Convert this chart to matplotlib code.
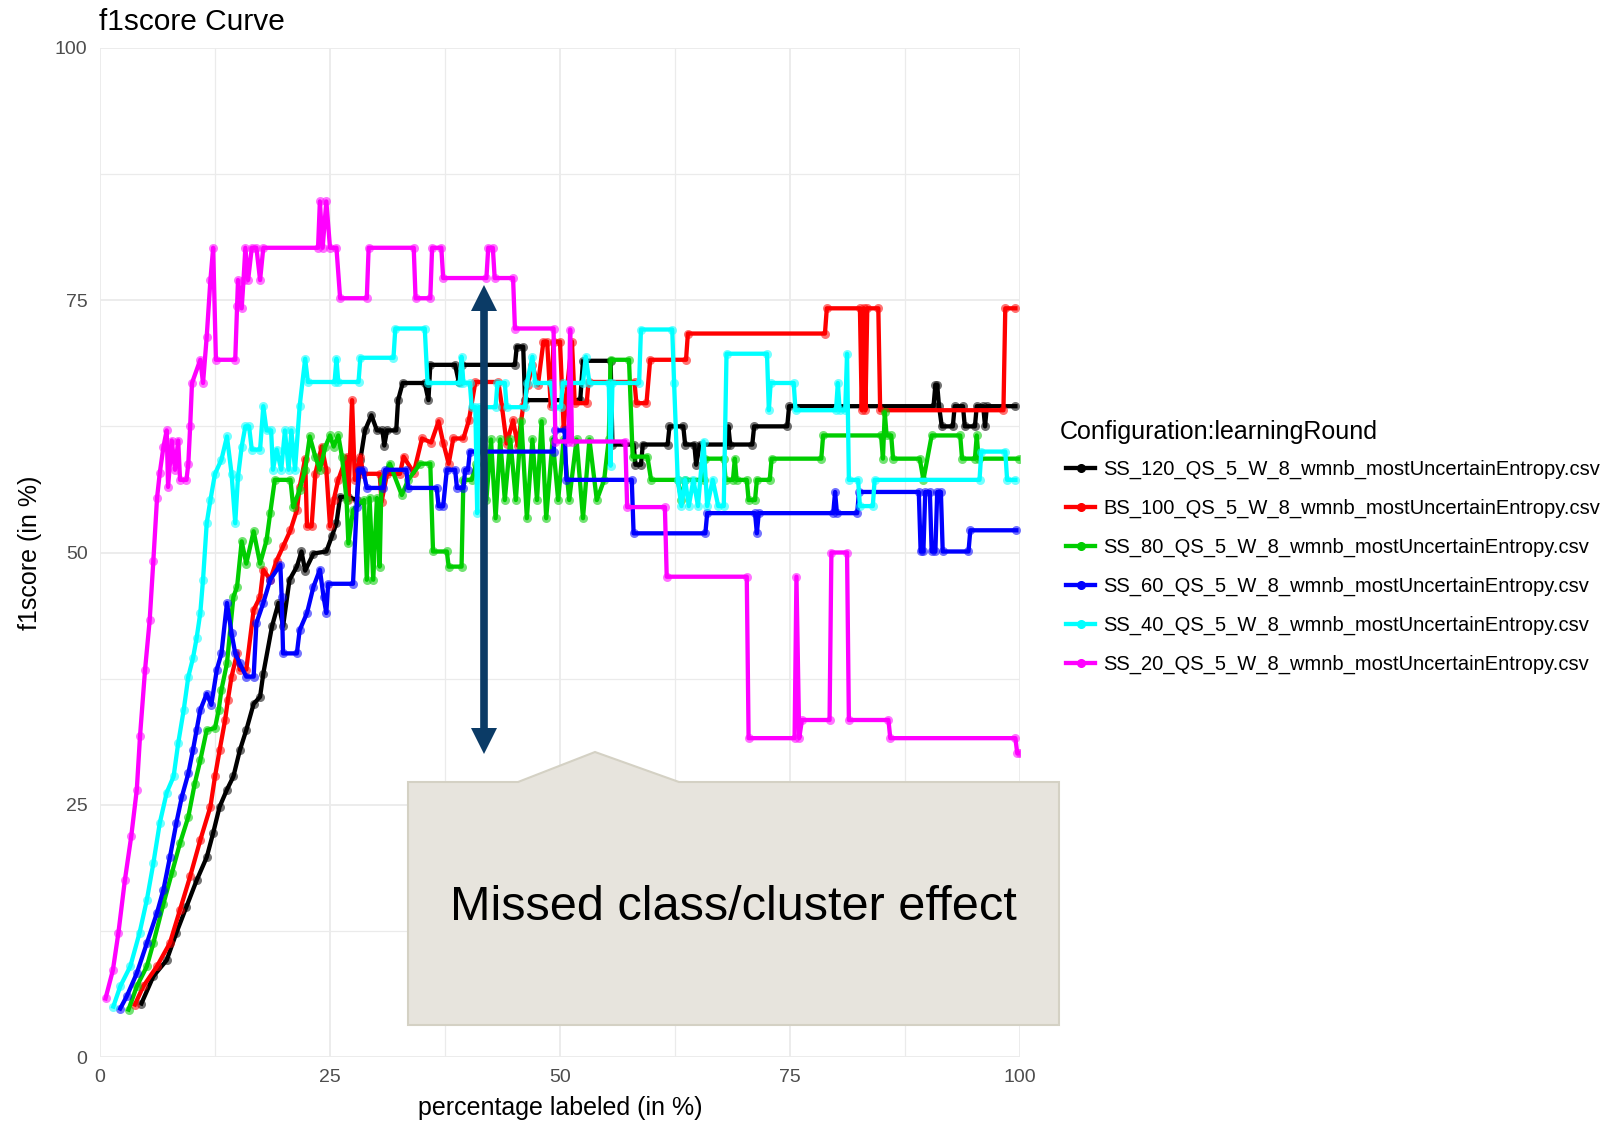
import matplotlib
matplotlib.use("Agg")
import matplotlib.pyplot as plt
from matplotlib.lines import Line2D
from matplotlib.patches import Polygon

plt.rcParams['font.family'] = ['Liberation Sans', 'DejaVu Sans']

# series: (percentage labeled, f1score)
ss120 = [(4.5, 5.3), (5.8, 8.0), (7.25, 9.6), (8.3, 12.3), (9.4, 14.9), (10.5, 17.5), (11.6, 19.8),
         (12.3, 22.2), (13.0, 24.8), (13.8, 26.5), (14.5, 27.8), (15.2, 30.4), (15.9, 32.4), (16.7, 35.0),
         (17.4, 35.7), (17.75, 38.0), (18.7, 42.7), (19.4, 45.0), (19.9, 42.7), (20.6, 47.3), (21.4, 48.6),
         (21.9, 50.1), (22.3, 48.2), (23.2, 49.9), (24.6, 50.1), (25.2, 51.6), (25.7, 52.9), (26.1, 55.5),
         (27.0, 55.5), (27.9, 55.2), (28.3, 59.2), (28.8, 62.1), (29.5, 63.6), (30.1, 62.1), (30.7, 62.1),
         (30.9, 60.6), (31.2, 62.1), (32.2, 62.1), (32.4, 65.1), (32.9, 66.8), (35.3, 66.8), (35.7, 65.1),
         (35.9, 68.6), (38.6, 68.6), (39.0, 66.9), (39.3, 68.6), (45.1, 68.6), (45.3, 70.4), (46.0, 70.4),
         (46.2, 65.1), (52.2, 65.1), (52.5, 69.0), (55.5, 69.0), (55.7, 60.7), (58.0, 60.7), (58.2, 58.7),
         (58.8, 58.7), (59.0, 60.7), (61.7, 60.7), (61.9, 62.5), (63.4, 62.5), (63.6, 60.7), (64.6, 60.7),
         (64.8, 58.7), (65.2, 60.7), (68.1, 60.7), (68.3, 62.5), (68.5, 60.7), (70.9, 60.7), (71.1, 62.5),
         (74.7, 62.5), (74.9, 64.5), (90.6, 64.5), (90.8, 66.6), (91.0, 66.6), (91.2, 64.5), (91.5, 62.5),
         (92.7, 62.5), (92.9, 64.5), (93.8, 64.5), (94.0, 62.5), (95.1, 62.5), (95.3, 64.5), (96.0, 64.5),
         (96.2, 62.5), (96.4, 64.5), (99.5, 64.5)]

bs100 = [(3.8, 5.2), (4.7, 7.0), (6.2, 9.0), (7.6, 11.3), (8.7, 14.6), (9.8, 17.9), (10.9, 21.5),
         (12.0, 24.8), (12.5, 27.8), (13.0, 30.4), (13.6, 33.4), (13.9, 35.4), (14.3, 37.7), (14.9, 40.0),
         (15.2, 38.4), (15.9, 38.4), (16.7, 44.3), (17.4, 45.6), (17.75, 48.3), (18.5, 47.3), (19.2, 49.2),
         (19.9, 50.6), (20.7, 52.2), (21.4, 54.2), (21.7, 56.5), (22.3, 59.3), (22.5, 52.6), (23.0, 52.6),
         (23.4, 57.8), (24.1, 60.5), (24.6, 58.2), (25.0, 52.6), (25.4, 55.2), (25.9, 57.2), (26.8, 59.5),
         (27.0, 55.2), (27.4, 65.1), (27.7, 57.2), (28.3, 59.5), (28.6, 57.8), (30.4, 57.8), (30.6, 55.0),
         (31.2, 57.8), (32.6, 57.8), (33.0, 59.5), (34.1, 57.9), (35.0, 61.3), (36.0, 60.9), (36.8, 63.0),
         (37.3, 60.9), (37.9, 58.8), (38.4, 61.3), (39.5, 61.3), (40.1, 63.1), (40.8, 66.9), (43.3, 66.9),
         (43.7, 64.4), (44.2, 60.8), (44.9, 63.1), (45.4, 60.6), (46.0, 64.5), (46.5, 66.6), (47.0, 68.6),
         (47.6, 66.6), (48.2, 70.9), (48.6, 70.9), (49.0, 64.5), (49.3, 70.9), (50.0, 70.9), (50.4, 62.3),
         (50.8, 66.6), (51.3, 70.9), (51.6, 64.8), (52.9, 64.8), (53.1, 66.9), (58.1, 66.9), (58.3, 64.8),
         (59.4, 64.8), (59.8, 69.1), (63.7, 69.1), (63.9, 71.7), (78.8, 71.7), (79.0, 74.2), (82.6, 74.2),
         (82.8, 64.1), (83.0, 74.2), (83.2, 64.1), (83.4, 74.2), (84.6, 74.2), (84.8, 64.1), (98.2, 64.1),
         (98.4, 74.2), (99.5, 74.2)]

ss80 = [(3.1, 4.7), (4.0, 7.0), (5.1, 9.0), (5.8, 11.3), (6.9, 15.2), (7.8, 18.2), (8.7, 21.2),
        (9.6, 23.8), (10.3, 27.1), (10.9, 29.4), (11.6, 32.4), (12.5, 32.6), (12.9, 34.4), (13.2, 36.4),
        (13.8, 39.0), (14.5, 45.6), (14.9, 46.6), (15.4, 51.1), (15.9, 48.9), (16.7, 52.1), (17.4, 48.9),
        (18.1, 51.2), (18.5, 53.9), (19.0, 57.2), (20.7, 57.2), (21.0, 54.5), (21.7, 56.2), (22.3, 58.2),
        (22.8, 61.5), (23.4, 59.5), (23.9, 58.2), (24.5, 60.5), (25.0, 61.6), (25.4, 60.5), (25.9, 61.6),
        (26.3, 59.5), (26.8, 55.2), (27.0, 50.9), (27.5, 54.2), (28.7, 55.2), (29.0, 47.3), (29.3, 55.4),
        (29.7, 47.3), (30.1, 55.4), (30.4, 48.6), (30.6, 57.2), (31.5, 58.8), (32.8, 55.7), (33.5, 57.2),
        (34.8, 58.8), (35.9, 58.8), (36.2, 50.1), (37.7, 50.1), (37.9, 48.6), (39.3, 48.6), (39.5, 57.2),
        (40.4, 57.2), (40.9, 58.8), (41.5, 61.2), (42.0, 55.2), (42.5, 61.2), (43.0, 53.4), (43.5, 61.2),
        (44.0, 55.2), (44.6, 61.2), (45.2, 55.2), (45.8, 63.0), (46.4, 53.4), (47.0, 61.2), (47.5, 55.2),
        (48.0, 63.0), (48.5, 53.4), (49.2, 61.2), (49.8, 55.2), (50.4, 61.2), (51.0, 55.2), (51.8, 61.2),
        (52.5, 53.4), (53.2, 61.2), (54.0, 55.2), (54.8, 57.2), (55.3, 61.2), (55.5, 69.1), (57.5, 69.1),
        (57.9, 59.5), (59.5, 59.5), (59.9, 57.2), (62.8, 57.2), (63.2, 55.2), (63.6, 57.2), (65.6, 57.2),
        (65.8, 59.3), (67.8, 59.3), (68.0, 57.2), (68.8, 57.2), (69.0, 59.3), (69.2, 57.2), (70.3, 57.2),
        (70.5, 55.2), (71.2, 55.2), (71.4, 57.2), (72.8, 57.2), (73.0, 59.3), (78.4, 59.3), (78.6, 61.6),
        (84.9, 61.6), (85.1, 59.3), (85.3, 63.9), (85.5, 61.6), (86.0, 61.6), (86.2, 59.3), (89.1, 59.3),
        (89.5, 57.2), (90.4, 61.6), (93.5, 61.6), (93.7, 59.3), (95.1, 59.3), (95.3, 61.6), (95.5, 59.3),
        (99.9, 59.3)]

ss60 = [(2.2, 4.8), (2.9, 6.0), (4.0, 8.3), (5.1, 11.3), (6.2, 14.3), (6.9, 16.6), (7.6, 19.8),
        (8.3, 23.2), (8.9, 25.8), (9.6, 28.1), (10.1, 30.4), (10.5, 32.4), (10.9, 34.4), (11.6, 36.0),
        (12.1, 34.9), (12.7, 38.4), (13.2, 40.0), (13.8, 45.0), (14.3, 42.0), (14.7, 40.0), (15.2, 39.0),
        (15.9, 37.7), (16.7, 37.7), (17.0, 43.0), (17.75, 45.0), (18.5, 47.3), (19.6, 48.8), (19.75, 45.6),
        (19.9, 40.0), (21.4, 40.0), (21.7, 42.3), (22.5, 44.0), (23.2, 46.6), (23.9, 48.3), (24.3, 45.6),
        (24.6, 44.0), (24.8, 46.9), (27.5, 46.9), (27.9, 54.5), (28.1, 58.2), (28.6, 58.2), (29.0, 56.4),
        (30.8, 56.4), (31.0, 58.2), (33.3, 58.2), (33.5, 56.4), (36.6, 56.4), (36.8, 54.6), (37.3, 54.6),
        (37.7, 58.2), (38.6, 58.2), (38.8, 56.4), (39.5, 56.4), (39.7, 58.2), (40.0, 58.2), (40.2, 60.0),
        (49.3, 60.0), (49.5, 62.1), (50.5, 62.1), (50.7, 57.2), (57.8, 57.2), (58.0, 51.9), (65.8, 51.9),
        (66.0, 53.9), (71.2, 53.9), (71.4, 51.9), (71.6, 53.9), (79.7, 53.9), (79.9, 56.0), (80.1, 53.9),
        (82.3, 53.9), (82.5, 56.0), (89.0, 56.0), (89.2, 50.1), (89.5, 50.1), (89.7, 56.0), (90.2, 56.0),
        (90.4, 50.1), (90.8, 50.1), (91.0, 56.0), (91.4, 56.0), (91.6, 50.1), (94.4, 50.1), (94.6, 52.2),
        (99.6, 52.2)]

ss40 = [(1.45, 5.0), (2.2, 7.0), (3.3, 9.0), (4.3, 12.3), (5.1, 15.6), (5.8, 19.2), (6.5, 23.2),
        (7.25, 26.2), (8.0, 27.8), (8.5, 31.1), (9.1, 34.4), (9.6, 37.7), (10.1, 39.5), (10.5, 41.5),
        (10.9, 44.0), (11.2, 47.3), (11.6, 52.9), (12.0, 55.2), (12.5, 57.8), (13.2, 59.2), (13.8, 61.5),
        (14.3, 57.8), (14.7, 52.9), (15.0, 57.5), (15.4, 60.5), (15.8, 62.5), (16.2, 62.5), (16.5, 60.2),
        (17.4, 60.2), (17.75, 64.5), (18.1, 62.1), (18.6, 62.1), (18.8, 58.2), (19.2, 60.2), (19.7, 58.2),
        (20.1, 62.1), (20.5, 58.2), (20.8, 62.1), (21.2, 58.2), (21.7, 64.5), (22.3, 69.2), (22.6, 66.9),
        (25.5, 66.9), (25.7, 69.2), (25.9, 66.9), (28.1, 66.9), (28.3, 69.3), (31.9, 69.3), (32.1, 72.2),
        (35.3, 72.2), (35.6, 66.8), (39.1, 66.8), (39.3, 69.4), (39.5, 66.8), (40.2, 66.8), (40.4, 64.4),
        (40.8, 64.4), (41.0, 53.9), (41.2, 64.4), (43.0, 64.4), (43.2, 66.8), (44.0, 66.8), (44.2, 64.4),
        (46.2, 64.4), (46.4, 66.8), (47.0, 69.4), (47.3, 66.8), (49.0, 66.8), (49.3, 64.4), (50.1, 64.4),
        (50.3, 66.8), (52.5, 66.8), (52.8, 69.4), (53.2, 66.8), (55.3, 66.8), (55.5, 58.6), (55.7, 66.8),
        (58.6, 66.8), (58.8, 72.1), (62.2, 72.1), (62.4, 66.8), (62.8, 57.2), (63.2, 54.6), (63.6, 57.2),
        (64.0, 54.6), (64.5, 57.2), (65.0, 54.6), (65.6, 61.0), (66.0, 54.6), (66.6, 57.2), (67.2, 54.6),
        (67.8, 54.6), (68.1, 69.7), (72.5, 69.7), (72.7, 64.1), (72.9, 66.8), (75.4, 66.8), (75.6, 64.1),
        (80.0, 64.1), (80.2, 66.8), (80.4, 64.1), (81.0, 64.1), (81.2, 69.7), (81.4, 57.2), (82.4, 57.2),
        (82.6, 54.6), (84.0, 54.6), (84.2, 57.2), (95.6, 57.2), (95.8, 60.0), (98.4, 60.0), (98.6, 57.2),
        (99.5, 57.2)]

ss20 = [(0.6, 5.8), (1.4, 8.6), (2.0, 12.3), (2.7, 17.5), (3.4, 21.9), (4.0, 26.5), (4.35, 31.8),
        (4.9, 38.4), (5.4, 43.3), (5.8, 49.2), (6.2, 55.4), (6.5, 57.9), (6.9, 60.5), (7.25, 62.1),
        (7.4, 56.5), (7.8, 61.1), (8.15, 58.2), (8.5, 61.1), (8.7, 57.2), (9.4, 57.2), (9.6, 58.8),
        (9.8, 62.5), (10.0, 66.8), (10.9, 69.1), (11.2, 66.8), (11.6, 71.4), (12.0, 77.0), (12.3, 80.2),
        (12.6, 69.1), (14.7, 69.1), (14.9, 74.4), (15.0, 77.0), (15.4, 74.2), (15.6, 77.0), (15.8, 80.2),
        (16.1, 77.0), (16.5, 80.2), (17.0, 80.2), (17.4, 77.0), (17.75, 80.2), (23.7, 80.2), (23.9, 84.8),
        (24.2, 80.2), (24.6, 84.8), (25.0, 80.2), (25.7, 80.2), (26.1, 75.2), (29.0, 75.2), (29.2, 80.2),
        (34.1, 80.2), (34.3, 75.2), (35.9, 75.2), (36.1, 80.2), (37.1, 80.2), (37.3, 77.2), (42.0, 77.2),
        (42.2, 80.2), (42.7, 80.2), (42.9, 77.2), (44.9, 77.2), (45.1, 72.2), (49.3, 72.2), (49.5, 61.0),
        (50.9, 61.0), (51.1, 72.1), (51.3, 61.0), (57.1, 61.0), (57.3, 54.5), (61.4, 54.5), (61.6, 47.6),
        (70.3, 47.6), (70.5, 31.6), (75.5, 31.6), (75.7, 47.6), (76.0, 31.6), (76.3, 33.4), (79.3, 33.4),
        (79.5, 50.0), (81.2, 50.0), (81.4, 33.4), (85.7, 33.4), (85.9, 31.6), (99.5, 31.6), (99.7, 30.1),
        (100.0, 30.1)]

labels = ["SS_120_QS_5_W_8_wmnb_mostUncertainEntropy.csv",
          "BS_100_QS_5_W_8_wmnb_mostUncertainEntropy.csv",
          "SS_80_QS_5_W_8_wmnb_mostUncertainEntropy.csv",
          "SS_60_QS_5_W_8_wmnb_mostUncertainEntropy.csv",
          "SS_40_QS_5_W_8_wmnb_mostUncertainEntropy.csv",
          "SS_20_QS_5_W_8_wmnb_mostUncertainEntropy.csv"]
colors = ['#000000', '#FF0000', '#00CD00', '#0000FF', '#00FFFF', '#FF00FF']
series = [ss120, bs100, ss80, ss60, ss40, ss20]

W, H = 1608, 1123
fig = plt.figure(figsize=(W / 100, H / 100), dpi=100)
ax = fig.add_axes([100 / W, 1 - 1057 / H, 920 / W, 1009 / H])

handles = []
for data, c, lab in zip(series, colors, labels):
    xs = [p[0] for p in data]
    ys = [p[1] for p in data]
    ax.plot(xs, ys, color=c, lw=3.1, solid_joinstyle='round')
    ax.plot(xs, ys, 'o', color=c, ms=6.5, alpha=0.55, mew=0)
    handles.append(Line2D([], [], color=c, lw=3.1, marker='o', ms=5.5))

ax.set_xlim(0, 100)
ax.set_ylim(0, 100)
ax.set_xticks([0, 25, 50, 75, 100])
ax.set_yticks([0, 25, 50, 75, 100])
ax.set_xticks([12.5, 37.5, 62.5, 87.5], minor=True)
ax.set_yticks([12.5, 37.5, 62.5, 87.5], minor=True)
ax.grid(which='major', color='#EBEBEB', lw=1.3)
ax.grid(which='minor', color='#EBEBEB', lw=0.9)
ax.set_axisbelow(True)
for s in ax.spines.values():
    s.set_visible(False)
ax.tick_params(which='both', length=0, labelsize=14, labelcolor='#4D4D4D')
ax.tick_params(axis='x', pad=9)
ax.tick_params(axis='y', pad=9)
ax.set_xlabel("percentage labeled (in %)", fontsize=18, labelpad=7)
ax.set_ylabel("f1score (in %)", fontsize=18, labelpad=9)

fig.text(99 / W, 1 - 22 / H, "f1score Curve", fontsize=21.5, va='center', ha='left')

# legend title placed on its own, entries below it
fig.text(1060 / W, 1 - 432 / H, "Configuration:learningRound", fontsize=18, va='center', ha='left')
leg = fig.legend(handles, labels, loc='upper left', bbox_to_anchor=(1066 / W, 1 - 460 / H),
                 frameon=False, fontsize=14.5, handlelength=1.45, handletextpad=0.4,
                 labelspacing=0.98, borderpad=0, borderaxespad=0)

# callout box overlay
box = [(408, 782), (518, 782), (595, 752), (679, 782), (1059, 782), (1059, 1025), (408, 1025)]
poly = Polygon([(x / W, 1 - y / H) for x, y in box], closed=True, transform=fig.transFigure,
               facecolor='#E7E4DD', edgecolor='#D4D1C4', lw=1.5, zorder=10)
fig.patches.append(poly)
fig.text(733 / W, 1 - 908 / H, "Missed class/cluster effect", fontsize=35, ha='center', va='center',
         zorder=11)

# double arrow
arrow_c = '#0B3B66'
ax.plot([41.7, 41.7], [32.0, 74.5], color=arrow_c, lw=5.5, solid_capstyle='butt', zorder=12)
ax.plot([41.7], [75.2], marker='^', ms=19, color=arrow_c, mew=0, zorder=12)
ax.plot([41.7], [31.3], marker='v', ms=19, color=arrow_c, mew=0, zorder=12)

fig.savefig("out.png", dpi=100)
